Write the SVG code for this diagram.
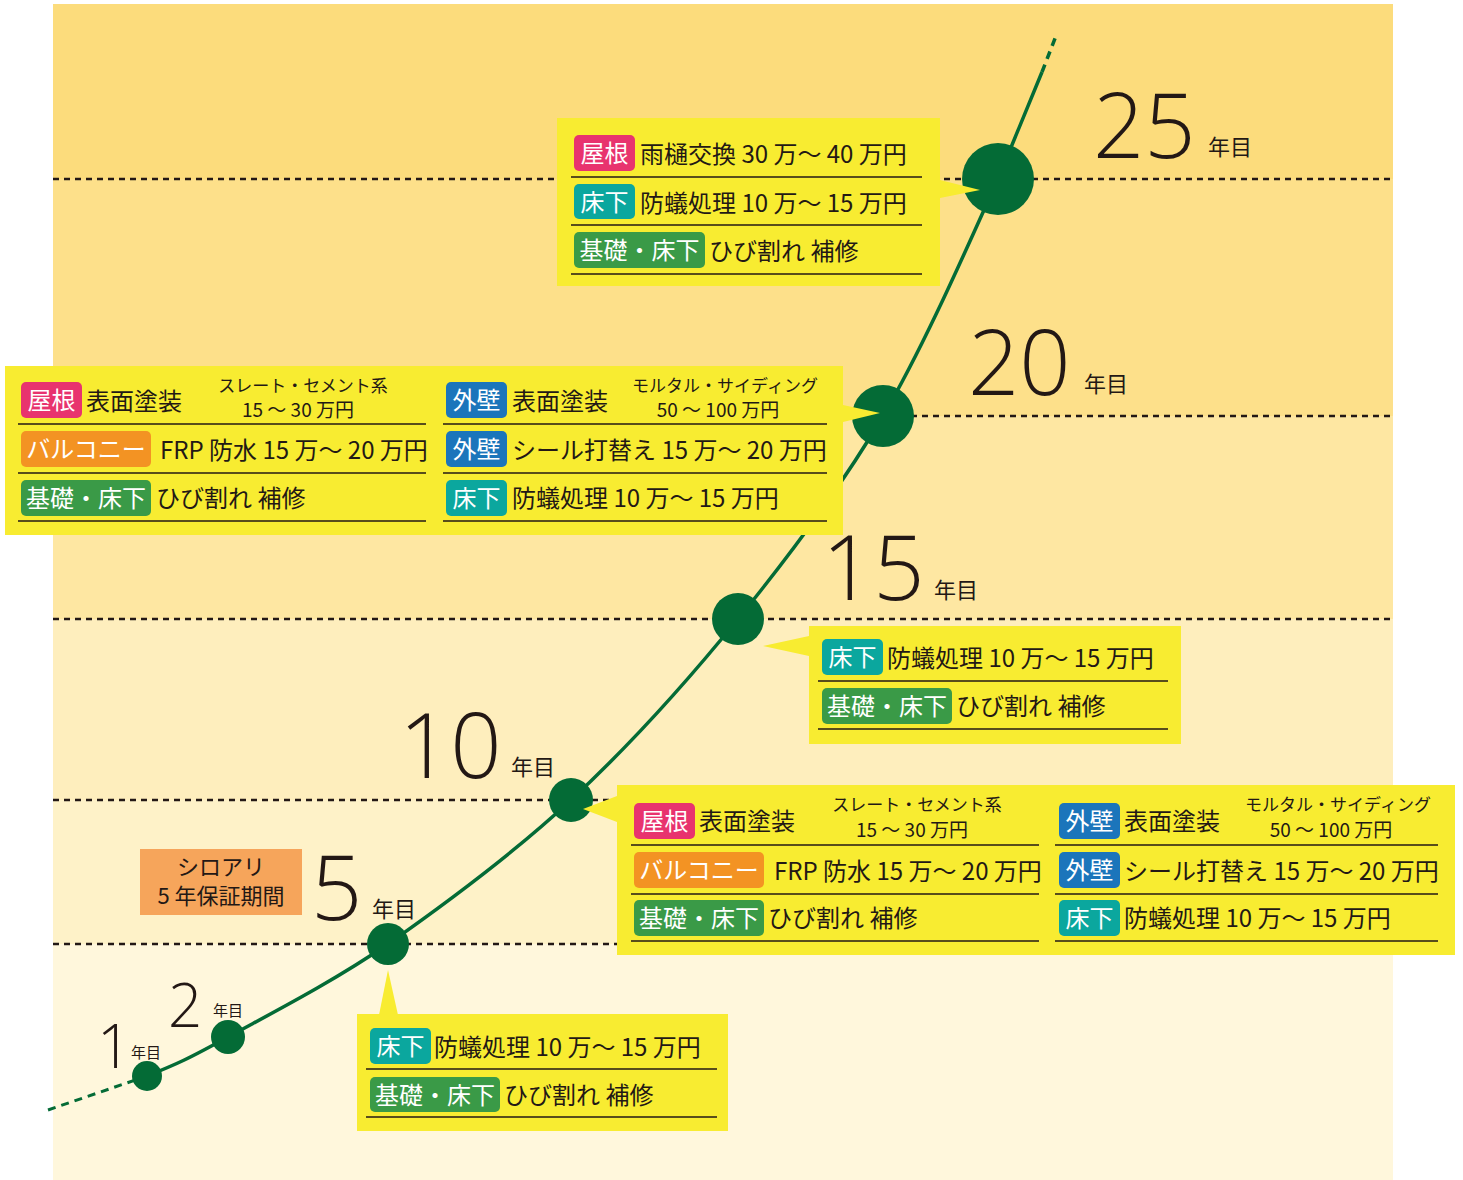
<svg xmlns="http://www.w3.org/2000/svg" width="1463" height="1180" viewBox="0 0 1463 1180">
<style>
.box{fill:#F8EC31}
.dot{stroke:#231815;stroke-width:2.5;stroke-dasharray:6 5;fill:none}
.rule{stroke:#231815;stroke-width:1.5}
.tg{fill:#fff;font-family:"Noto Sans CJK JP",sans-serif;font-size:24px;text-anchor:middle}
.bd{fill:#231815;font-family:"Noto Sans CJK JP",sans-serif;font-size:24px}
.sm{fill:#231815;font-family:"Noto Sans CJK JP",sans-serif;font-size:17px;text-anchor:middle}
.sm2{fill:#231815;font-family:"Noto Sans CJK JP",sans-serif;font-size:19px;text-anchor:middle}
.big{fill:#231815;font-family:"Open Sans","Noto Sans",sans-serif;font-weight:300}
.ym{fill:#231815;font-family:"Noto Sans CJK JP",sans-serif}
.pk{fill:#E8336E}.tl{fill:#0BA79E}.gr{fill:#3A9A47}.or{fill:#F39323}.bl{fill:#1B75BB}
.node{fill:#046B36}
</style>
<g id="background">
<rect x="53" y="4" width="1340" height="175" fill="#FCDC7C"/>
<rect x="53" y="179" width="1340" height="237" fill="#FDE08A"/>
<rect x="53" y="416" width="1340" height="203" fill="#FEE7A2"/>
<rect x="53" y="619" width="1340" height="181" fill="#FEEEBD"/>
<rect x="53" y="800" width="1340" height="144" fill="#FEF2C8"/>
<rect x="53" y="944" width="1340" height="236" fill="#FFF7DC"/>
</g>
<g id="gridlines">
<line class="dot" x1="53" y1="179" x2="1393" y2="179"/>
<line class="dot" x1="53" y1="416" x2="1393" y2="416"/>
<line class="dot" x1="53" y1="619" x2="1393" y2="619"/>
<line class="dot" x1="53" y1="800" x2="1393" y2="800"/>
<line class="dot" x1="53" y1="944" x2="1393" y2="944"/>
</g>
<g id="connectors">
<path d="M48,1110 L147,1076" stroke="#046B36" stroke-width="3" stroke-dasharray="8 6" fill="none"/>
<path d="M147,1076 C177,1064 188,1059 228,1037 C268,1015 331,983 388,944 C445,904 513,854 571,800 C629,746 686,683 738,619 C790,555 840,489 883,416 C926,343 972,236 998,179 L1042,72" stroke="#046B36" stroke-width="3.5" fill="none"/>
<path d="M1042,72 L1056,36" stroke="#046B36" stroke-width="3.5" stroke-dasharray="8 6" fill="none"/>
</g>
<g id="node-y1"><circle class="node" cx="147" cy="1076" r="15"/><text class="big" x="97" y="1068" font-size="60">1</text><text class="ym" x="131" y="1058" font-size="15">年目</text></g>
<g id="node-y2"><circle class="node" cx="228" cy="1037" r="17"/><text class="big" x="168" y="1027" font-size="60">2</text><text class="ym" x="213" y="1016" font-size="15">年目</text></g>
<g id="node-y5"><circle class="node" cx="388" cy="944" r="21"/><text class="big" x="311" y="920" font-size="90">5</text><text class="ym" x="372" y="917" font-size="22">年目</text></g>
<g id="node-y10"><circle class="node" cx="571" cy="800" r="22"/><text class="big" x="399" y="778" font-size="90">10</text><text class="ym" x="511" y="775" font-size="22">年目</text></g>
<g id="node-y15"><circle class="node" cx="738" cy="619" r="26"/><text class="big" x="822" y="600" font-size="90">15</text><text class="ym" x="934" y="598" font-size="22">年目</text></g>
<g id="node-y20"><circle class="node" cx="883" cy="416" r="31"/><text class="big" x="968" y="395" font-size="90">20</text><text class="ym" x="1084" y="392" font-size="22">年目</text></g>
<g id="node-y25"><circle class="node" cx="998" cy="179" r="36"/><text class="big" x="1093" y="158" font-size="90">25</text><text class="ym" x="1208" y="155" font-size="22">年目</text></g>
<g id="warranty">
<rect x="140" y="849" width="162" height="66" fill="#F6A55B"/>
<text class="ym" x="221" y="875" font-size="22" text-anchor="middle" fill="#4a3020">シロアリ</text>
<text class="ym" x="221" y="904" font-size="22" text-anchor="middle" fill="#4a3020">5 年保証期間</text>
</g>
<g id="box-y25">
<rect class="box" x="557" y="118" width="383" height="168"/>
<polygon class="box" points="940,180 940,198 980,190"/>
<rect class="pk" x="574" y="135" width="61" height="36" rx="5"/><text class="tg" x="604.5" y="162">屋根</text>
<text class="bd" x="640" y="163">雨樋交換 30 万～ 40 万円</text>
<line class="rule" x1="571" y1="177" x2="922" y2="177"/>
<rect class="tl" x="574" y="184" width="61" height="35" rx="5"/><text class="tg" x="604.5" y="211">床下</text>
<text class="bd" x="640" y="212">防蟻処理 10 万～ 15 万円</text>
<line class="rule" x1="571" y1="225" x2="922" y2="225"/>
<rect class="gr" x="574" y="232" width="131" height="36" rx="5"/><text class="tg" x="639.5" y="259">基礎・床下</text>
<text class="bd" x="709" y="260">ひび割れ 補修</text>
<line class="rule" x1="571" y1="274" x2="922" y2="274"/>
</g>
<g id="box-y20">
<rect class="box" x="5" y="366" width="838" height="169"/>
<polygon class="box" points="843,405 843,422 880,413"/>
<rect class="pk" x="21" y="382" width="61" height="36" rx="5"/><text class="tg" x="51.5" y="409">屋根</text>
<text class="bd" x="86" y="410">表面塗装</text>
<text class="sm" x="303" y="392">スレート・セメント系</text>
<text class="sm2" x="298" y="417">15 ～ 30 万円</text>
<line class="rule" x1="18" y1="424" x2="426" y2="424"/>
<rect class="or" x="21" y="431" width="130" height="36" rx="5"/><text class="tg" x="86" y="458">バルコニー</text>
<text class="bd" x="160" y="459">FRP 防水 15 万～ 20 万円</text>
<line class="rule" x1="18" y1="473" x2="426" y2="473"/>
<rect class="gr" x="21" y="480" width="130" height="36" rx="5"/><text class="tg" x="86" y="507">基礎・床下</text>
<text class="bd" x="156" y="507">ひび割れ 補修</text>
<line class="rule" x1="18" y1="521" x2="426" y2="521"/>
<rect class="bl" x="446" y="382" width="61" height="36" rx="5"/><text class="tg" x="476.5" y="409">外壁</text>
<text class="bd" x="512" y="410">表面塗装</text>
<text class="sm" x="725" y="392">モルタル・サイディング</text>
<text class="sm2" x="718" y="417">50 ～ 100 万円</text>
<line class="rule" x1="443" y1="424" x2="827" y2="424"/>
<rect class="bl" x="446" y="431" width="61" height="36" rx="5"/><text class="tg" x="476.5" y="458">外壁</text>
<text class="bd" x="512" y="459">シール打替え 15 万～ 20 万円</text>
<line class="rule" x1="443" y1="473" x2="827" y2="473"/>
<rect class="tl" x="446" y="480" width="61" height="36" rx="5"/><text class="tg" x="476.5" y="507">床下</text>
<text class="bd" x="512" y="507">防蟻処理 10 万～ 15 万円</text>
<line class="rule" x1="443" y1="521" x2="827" y2="521"/>
</g>
<g id="box-y15">
<rect class="box" x="809" y="626" width="372" height="118"/>
<polygon class="box" points="809,636 809,656 763,646"/>
<rect class="tl" x="822" y="639" width="61" height="36" rx="5"/><text class="tg" x="852.5" y="666">床下</text>
<text class="bd" x="887" y="667">防蟻処理 10 万～ 15 万円</text>
<line class="rule" x1="818" y1="681" x2="1168" y2="681"/>
<rect class="gr" x="822" y="688" width="130" height="36" rx="5"/><text class="tg" x="887" y="715">基礎・床下</text>
<text class="bd" x="956" y="715">ひび割れ 補修</text>
<line class="rule" x1="818" y1="729" x2="1168" y2="729"/>
</g>
<g id="box-y10">
<rect class="box" x="617" y="785" width="838" height="170"/>
<polygon class="box" points="617,796 617,822 583,809"/>
<rect class="pk" x="634" y="803" width="61" height="36" rx="5"/><text class="tg" x="664.5" y="830">屋根</text>
<text class="bd" x="699" y="830">表面塗装</text>
<text class="sm" x="917" y="811">スレート・セメント系</text>
<text class="sm2" x="912" y="837">15 ～ 30 万円</text>
<line class="rule" x1="631" y1="845" x2="1039" y2="845"/>
<rect class="or" x="634" y="852" width="130" height="36" rx="5"/><text class="tg" x="699" y="879">バルコニー</text>
<text class="bd" x="774" y="880">FRP 防水 15 万～ 20 万円</text>
<line class="rule" x1="631" y1="894" x2="1039" y2="894"/>
<rect class="gr" x="634" y="900" width="130" height="36" rx="5"/><text class="tg" x="699" y="927">基礎・床下</text>
<text class="bd" x="768" y="927">ひび割れ 補修</text>
<line class="rule" x1="631" y1="941" x2="1039" y2="941"/>
<rect class="bl" x="1059" y="803" width="61" height="36" rx="5"/><text class="tg" x="1089.5" y="830">外壁</text>
<text class="bd" x="1124" y="830">表面塗装</text>
<text class="sm" x="1338" y="811">モルタル・サイディング</text>
<text class="sm2" x="1331" y="837">50 ～ 100 万円</text>
<line class="rule" x1="1055" y1="845" x2="1438" y2="845"/>
<rect class="bl" x="1059" y="852" width="61" height="36" rx="5"/><text class="tg" x="1089.5" y="879">外壁</text>
<text class="bd" x="1124" y="880">シール打替え 15 万～ 20 万円</text>
<line class="rule" x1="1055" y1="894" x2="1438" y2="894"/>
<rect class="tl" x="1059" y="900" width="61" height="36" rx="5"/><text class="tg" x="1089.5" y="927">床下</text>
<text class="bd" x="1124" y="927">防蟻処理 10 万～ 15 万円</text>
<line class="rule" x1="1055" y1="941" x2="1438" y2="941"/>
</g>
<g id="box-y5">
<rect class="box" x="357" y="1014" width="371" height="117"/>
<polygon class="box" points="379,1015 398,1015 388,970"/>
<rect class="tl" x="370" y="1028" width="61" height="36" rx="5"/><text class="tg" x="400.5" y="1055">床下</text>
<text class="bd" x="434" y="1056">防蟻処理 10 万～ 15 万円</text>
<line class="rule" x1="366" y1="1069" x2="717" y2="1069"/>
<rect class="gr" x="370" y="1077" width="130" height="35" rx="5"/><text class="tg" x="435" y="1104">基礎・床下</text>
<text class="bd" x="504" y="1104">ひび割れ 補修</text>
<line class="rule" x1="366" y1="1117" x2="717" y2="1117"/>
</g>
</svg>
